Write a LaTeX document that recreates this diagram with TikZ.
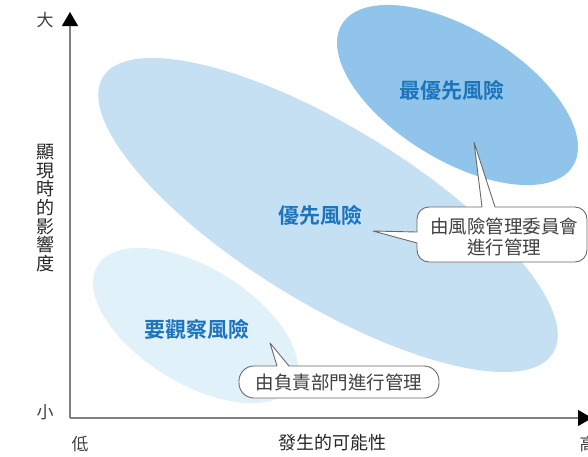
\documentclass[tikz,border=0pt]{standalone}
\usepackage{fontspec}
\setmainfont{Noto Sans CJK TC}[BoldFont={Noto Sans CJK TC Bold}]
\usetikzlibrary{shapes.geometric,arrows.meta}
\definecolor{ellDark}{HTML}{90C4EA}
\definecolor{ellMid}{HTML}{C6E0F3}
\definecolor{ellPale}{HTML}{E0F1FA}
\definecolor{lblBlue}{HTML}{1C74BC}
\definecolor{axisGray}{HTML}{808080}
\definecolor{txtGray}{HTML}{404040}
\definecolor{edgeGray}{HTML}{6A6A6A}
\tikzset{
  riskell/.style={ellipse, inner sep=0pt, draw=none, rotate=-31.5},
  risklabel/.style={font=\fontsize{21}{24}\selectfont\bfseries, text=lblBlue, inner sep=0pt},
  calloutline/.style={draw=edgeGray, line width=0.9pt, fill=white, line join=round},
  callouttext/.style={font=\fontsize{18.5}{21}\selectfont, text=txtGray, align=center, inner sep=0pt},
  axisline/.style={draw=axisGray, line width=1.3pt, -{Triangle[length=14pt,width=16pt,color=black]}},
  axistext/.style={font=\fontsize{18}{18.6}\selectfont, text=black!85, inner sep=0pt},
  ticktext/.style={font=\fontsize{17}{18}\selectfont, text=txtGray, inner sep=0pt}
}
\begin{document}
\begin{tikzpicture}[x=1pt,y=-1pt]
\useasboundingbox (0,0) rectangle (588,456);
% ellipses
\node[riskell, fill=ellDark, minimum width=271pt, minimum height=130.6pt] (eTop) at (457.5,95) {};
\node[riskell, fill=ellMid, minimum width=528pt, minimum height=176pt] (eMid) at (328,215) {};
\node[riskell, fill=ellPale, minimum width=229.4pt, minimum height=115.8pt] (eLow) at (195.5,325.5) {};
% axes
\coordinate (origin) at (70,418);
\coordinate (ytip) at (70,12);
\coordinate (xtip) at (592,418);
\draw[axisline] (origin) -- (ytip);
\draw[axisline] (origin) -- (xtip);
% axis texts
\node[ticktext] (big) at (45,20) {大};
\node[ticktext] (small) at (45,412) {小};
\node[ticktext] (low) at (80,444) {低};
\node[ticktext] (high) at (588,444) {高};
\node[axistext] (xlabel) at (332,443) {發生的可能性};
\node[axistext, align=center] (ylabel) at (45,208) {顯\\現\\時\\的\\影\\響\\度};
% risk labels
\node[risklabel] (lTop) at (452,90) {最優先風險};
\node[risklabel] (lMid) at (320,215) {優先風險};
\node[risklabel] (lLow) at (197,329) {要觀察風險};
% callout 1
\coordinate (tipA) at (474,142);
\coordinate (tipB) at (373,231);
\draw[calloutline] (429,207) -- (482,207) -- (tipA) -- (495,207) -- (575,207)
  arc[start angle=-90, end angle=0, radius=12] -- (587,250)
  arc[start angle=0, end angle=90, radius=12] -- (429,262)
  arc[start angle=90, end angle=180, radius=12] -- (417,243) -- (tipB) -- (417,232) -- (417,219)
  arc[start angle=180, end angle=270, radius=12] -- cycle;
\node[callouttext] (cA) at (504,237) {由風險管理委員會\\進行管理};
% callout 2
\coordinate (tipC) at (270,343);
\draw[calloutline] (254,366) -- (277,366) -- (tipC) -- (289,366) -- (424,366)
  arc[start angle=-90, end angle=0, radius=15] -- (439,383)
  arc[start angle=0, end angle=90, radius=15] -- (254,398)
  arc[start angle=90, end angle=180, radius=15] -- (239,381)
  arc[start angle=180, end angle=270, radius=15] -- cycle;
\node[callouttext] (cB) at (339,382) {由負責部門進行管理};
\end{tikzpicture}
\end{document}
